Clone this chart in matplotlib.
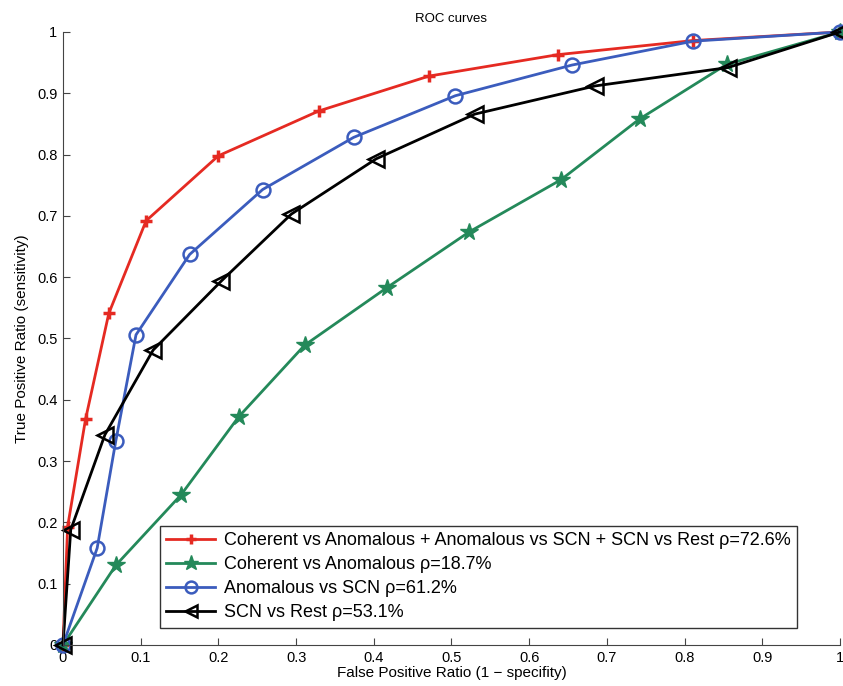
import matplotlib.pyplot as plt

plt.rcParams['font.family'] = ['Liberation Sans', 'DejaVu Sans']

# ROC points
fpr_all = [0, 0.006, 0.029, 0.059, 0.107, 0.200, 0.329, 0.471, 0.637, 0.811, 1.0]
tpr_all = [0, 0.193, 0.368, 0.541, 0.692, 0.798, 0.871, 0.928, 0.963, 0.986, 1.0]

fpr_coh = [0, 0.068, 0.152, 0.226, 0.311, 0.417, 0.523, 0.641, 0.742, 0.854, 1.0]
tpr_coh = [0, 0.130, 0.245, 0.372, 0.489, 0.583, 0.674, 0.759, 0.858, 0.947, 1.0]

fpr_ano = [0, 0.044, 0.068, 0.094, 0.163, 0.257, 0.374, 0.505, 0.655, 0.811, 1.0]
tpr_ano = [0, 0.158, 0.333, 0.506, 0.637, 0.743, 0.828, 0.896, 0.946, 0.985, 1.0]

fpr_scn = [0, 0.010, 0.054, 0.116, 0.204, 0.294, 0.403, 0.530, 0.685, 0.856, 1.0]
tpr_scn = [0, 0.188, 0.343, 0.481, 0.594, 0.703, 0.793, 0.866, 0.912, 0.942, 1.0]

labels = ['Coherent vs Anomalous + Anomalous vs SCN + SCN vs Rest ρ=72.6%',
          'Coherent vs Anomalous ρ=18.7%',
          'Anomalous vs SCN ρ=61.2%',
          'SCN vs Rest ρ=53.1%']

fig = plt.figure(figsize=(8.43, 6.86), dpi=100)
ax = fig.add_axes([0.0747, 0.0598, 0.9217, 0.8936])

ax.plot(fpr_all, tpr_all, '-', color='#e52a22', lw=2, marker='+', ms=9, mew=2.5,
        label=labels[0], clip_on=False)
ax.plot(fpr_coh, tpr_coh, '-', color='#24895a', lw=2, marker='*', ms=13,
        label=labels[1], clip_on=False)
ax.plot(fpr_ano, tpr_ano, '-', color='#3b5cbd', lw=2, marker='o', ms=10, mfc='none',
        mew=1.8, label=labels[2], clip_on=False)
ax.plot(fpr_scn, tpr_scn, '-', color='black', lw=2, marker='<', ms=11, mfc='none',
        mew=1.8, label=labels[3], clip_on=False)

ticks = [i / 10 for i in range(11)]
tick_labels = ['0', '0.1', '0.2', '0.3', '0.4', '0.5', '0.6', '0.7', '0.8', '0.9', '1']
ax.set_xlim(0, 1)
ax.set_ylim(0, 1)
ax.set_xticks(ticks)
ax.set_yticks(ticks)
ax.set_xticklabels(tick_labels)
ax.set_yticklabels(tick_labels)
ax.tick_params(direction='in', length=5, labelsize=10.5, color='#444444', pad=4)
for s in ['top', 'right']:
    ax.spines[s].set_visible(False)
for s in ['left', 'bottom']:
    ax.spines[s].set_color('#444444')

ax.set_xlabel('False Positive Ratio (1 − specifity)', fontsize=11, labelpad=1)
ax.set_ylabel('True Positive Ratio (sensitivity)', fontsize=11, labelpad=6)
ax.set_title('ROC curves', fontsize=9.5, pad=7,
             family=['Liberation Sans Narrow', 'Liberation Sans'])

leg = ax.legend(loc='lower left', bbox_to_anchor=(0.125, 0.028), fontsize=13,
                frameon=True, fancybox=False, edgecolor='black', handlelength=2.7,
                labelspacing=0.4, borderpad=0.35, handletextpad=0.5, borderaxespad=0,
                markerscale=0.85)
leg.get_frame().set_linewidth(1.0)

fig.savefig('out.png', dpi=100)
